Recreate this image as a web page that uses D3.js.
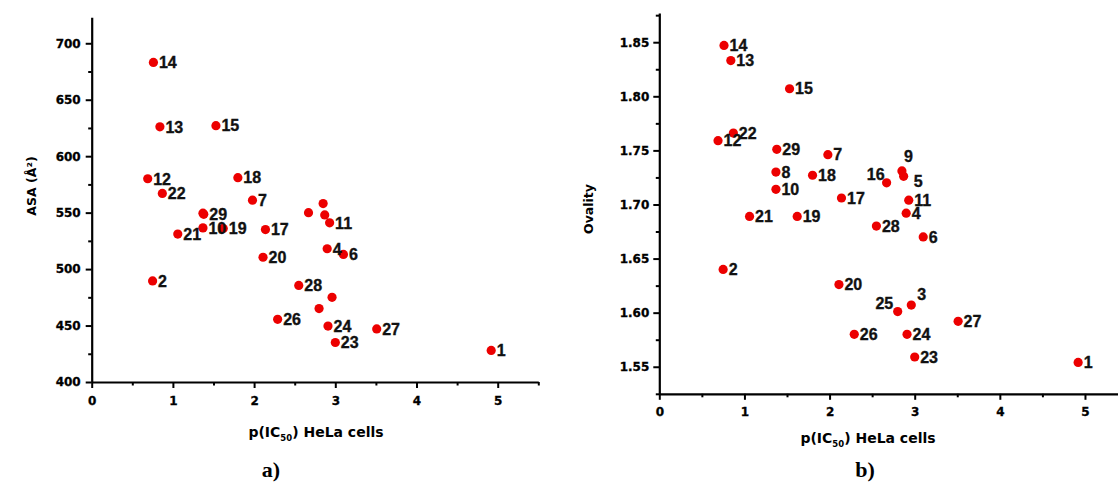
<!DOCTYPE html>
<html><head><meta charset="utf-8">
<script src="https://cdn.jsdelivr.net/npm/d3@7"></script>
<style>body{margin:0;background:#fff}svg{display:block}</style>
</head><body>
<svg id="c" width="1118" height="484"></svg>
<script>
// ---------------- data ----------------
const compoundLabels = ["1","2","3","4","5","6","7","8","9","10","11","12","13","14","15","16","17","18","19","20","21","22","23","24","25","26","27","28","29"];
const pIC50 = [4.92,0.75,2.96,2.90,2.87,3.10,1.98,1.37,2.85,1.37,2.93,0.69,0.84,0.76,1.53,2.67,2.14,1.80,1.62,2.11,1.06,0.87,3.00,2.91,2.80,2.29,3.51,2.55,1.38];
const asa = [428,489.5,475,518,548,513,561,549.5,558,536.5,541,580,626,683,627,550,535,581,536,510.5,531,567,435,449.5,465,455.5,447,485.5,548.5];
const ovality = [1.554,1.640,1.607,1.692,1.726,1.670,1.746,1.730,1.731,1.714,1.704,1.759,1.833,1.847,1.807,1.720,1.706,1.727,1.689,1.626,1.689,1.766,1.559,1.580,1.601,1.580,1.592,1.680,1.751];
// compounds whose number is not printed next to their point in panel a)
const asaUnlabeled = ["3","5","8","9","16","25"];
const xTickValues = [0,1,2,3,4,5];
const xMinorValues = [0.5,1.5,2.5,3.5,4.5,5.5];
const asaTickValues = [400,450,500,550,600,650,700];
const asaMinorValues = [425,475,525,575,625,675,725];
const ovalTickValues = [1.55,1.60,1.65,1.70,1.75,1.80,1.85];
const ovalMinorValues = [1.525,1.575,1.625,1.675,1.725,1.775,1.825,1.875];
const panelLetters = ["a)","b)"];
const xTitleMain = "p(IC", xTitleSub = "50", xTitleEnd = ") HeLa cells";
const yTitles = ["ASA (Å²)", "Ovality"];

// ---------------- drawing ----------------
const svg = d3.select("#c");
const TICKFONT = "'DejaVu Sans', sans-serif";
const LABFONT = "'Liberation Sans', Arial, sans-serif";

function panel(cfg) {
  const x = d3.scaleLinear().domain(cfg.xDomain).range(cfg.xRange);
  const y = d3.scaleLinear().domain(cfg.yDomain).range(cfg.yRange);
  const g = svg.append("g");
  const x0 = cfg.xRange[0], yb = cfg.yRange[0];

  g.append("g").attr("transform", `translate(0,${yb})`)
    .call(d3.axisBottom(x).tickValues(xTickValues).tickFormat(d3.format("d")).tickSize(6).tickSizeOuter(0).tickPadding(8));
  g.append("g").attr("transform", `translate(0,${yb})`)
    .call(d3.axisBottom(x).tickValues(xMinorValues.filter(v => v <= cfg.xDomain[1])).tickFormat("").tickSize(3.5).tickSizeOuter(0))
    .select(".domain").remove();
  g.append("g").attr("transform", `translate(${x0},0)`)
    .call(d3.axisLeft(y).tickValues(cfg.yTicks).tickFormat(cfg.yFormat).tickSize(6).tickSizeOuter(0).tickPadding(cfg.yPad));
  g.append("g").attr("transform", `translate(${x0},0)`)
    .call(d3.axisLeft(y).tickValues(cfg.yMinor.filter(v => v <= cfg.yDomain[1])).tickFormat("").tickSize(3.5).tickSizeOuter(0))
    .select(".domain").remove();

  g.selectAll(".domain").attr("stroke", "#000").attr("stroke-width", 2.2);
  g.selectAll(".tick line").attr("stroke", "#000").attr("stroke-width", 2);
  g.selectAll(".tick text").attr("font-family", TICKFONT).attr("font-weight", "bold")
    .attr("font-size", 12).attr("fill", "#000").attr("stroke", "#000").attr("stroke-width", 0.3);

  const data = pIC50.map((px, i) => ({id: compoundLabels[i], x: px, y: cfg.values[i]}));
  g.selectAll("circle.pt").data(data).join("circle").attr("class", "pt")
    .attr("cx", d => x(d.x)).attr("cy", d => y(d.y)).attr("r", 4.6)
    .attr("fill", "#ec0000");
  const fs = 16;
  g.selectAll("text.lab").data(data.filter(d => !cfg.hide.includes(d.id))).join("text").attr("class", "lab")
    .attr("x", d => x(d.x) + ((cfg.place[d.id] || {}).dx ?? 5.5))
    .attr("y", d => y(d.y) + ((cfg.place[d.id] || {}).dy ?? 0) + 0.36 * fs)
    .attr("text-anchor", d => (cfg.place[d.id] || {}).anchor || "start")
    .attr("font-family", LABFONT).attr("font-weight", "bold").attr("font-size", fs)
    .attr("fill", "#111").attr("stroke", "#111").attr("stroke-width", 0.35).text(d => d.id);

  const xt = g.append("text").attr("x", cfg.xTitlePos[0]).attr("y", cfg.xTitlePos[1])
    .attr("text-anchor", "middle").attr("font-family", TICKFONT).attr("font-weight", "bold")
    .attr("font-size", 14).attr("fill", "#000");
  xt.append("tspan").text(xTitleMain);
  xt.append("tspan").attr("font-size", 8.5).attr("dy", 4).text(xTitleSub);
  xt.append("tspan").attr("dy", -4).text(xTitleEnd);

  g.append("text").attr("transform", `translate(${cfg.yTitlePos[0]},${cfg.yTitlePos[1]}) rotate(-90)`)
    .attr("text-anchor", "middle").attr("font-family", TICKFONT).attr("font-weight", "bold")
    .attr("font-size", 12.5).attr("fill", "#000").text(cfg.yTitle);

  g.append("text").attr("x", cfg.letterPos[0]).attr("y", cfg.letterPos[1])
    .attr("text-anchor", "middle").attr("font-family", "'Liberation Serif', 'Times New Roman', serif")
    .attr("font-weight", "bold").attr("font-size", 22).attr("fill", "#000").text(cfg.letter);
}

panel({
  xDomain: [0, 5.5], xRange: [91.7, 538.3],
  yDomain: [400, 723], yRange: [382, 17.3],
  yTicks: asaTickValues, yMinor: asaMinorValues, yFormat: d3.format("d"), yPad: 5,
  values: asa, place: {}, hide: asaUnlabeled,
  xTitlePos: [316, 437], yTitlePos: [36, 186], yTitle: yTitles[0],
  letterPos: [271, 477], letter: panelLetters[0]
});

panel({
  xDomain: [0, 5.388], xRange: [659.3, 1118],
  yDomain: [1.525, 1.877], yRange: [393.8, 13],
  yTicks: ovalTickValues, yMinor: ovalMinorValues, yFormat: d3.format(".2f"), yPad: 4,
  values: ovality, hide: [],
  place: {
    "9": {dx: 2, dy: -15},
    "5": {dx: 10, dy: 4.5},
    "16": {dx: -2, dy: -8.4, anchor: "end"},
    "3": {dx: 6, dy: -10.7},
    "25": {dx: -4.4, dy: -8.4, anchor: "end"}
  },
  xTitlePos: [868, 443], yTitlePos: [593, 209], yTitle: yTitles[1],
  letterPos: [865, 477], letter: panelLetters[1]
});
</script>
</body></html>
